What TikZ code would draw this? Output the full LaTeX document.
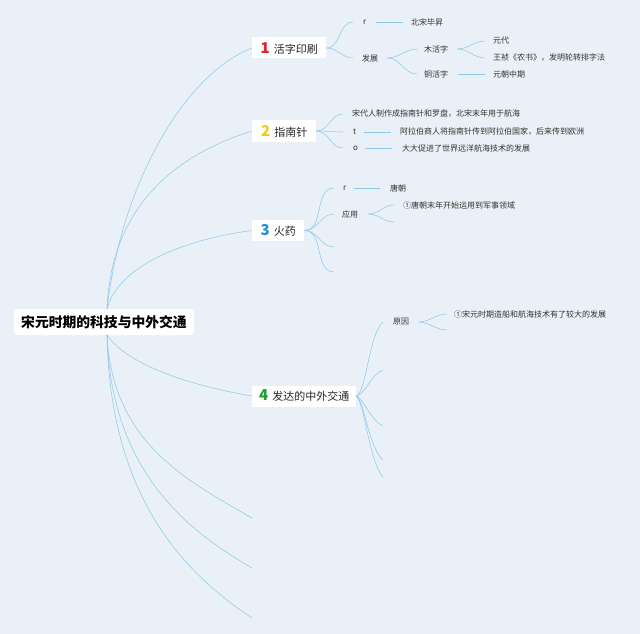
\documentclass[tikz,border=0pt]{standalone}
\usepackage{fontspec}
\setmainfont{Noto Sans CJK SC}
\definecolor{bgc}{HTML}{EAF0F7}
\definecolor{lnc}{HTML}{8FCBE9}
\definecolor{txc}{HTML}{333333}
\definecolor{nA}{HTML}{E3202B}
\definecolor{nB}{HTML}{F4C81C}
\definecolor{nC}{HTML}{1E90D8}
\definecolor{nD}{HTML}{1E9E2A}
\begin{document}
\begin{tikzpicture}[x=1pt,y=-1pt,
  conn/.style={draw=lnc, line width=0.55pt},
  leaf/.style={anchor=west, inner sep=0pt, text=txc, font=\fontsize{8}{9}\selectfont},
  topic/.style={anchor=west, fill=white, inner sep=0pt, minimum height=21pt, text=black!85, font=\fontsize{11}{12}\selectfont}
]
\useasboundingbox (0,0) rectangle (640,634);
\fill[bgc] (0,0) rectangle (640,634);

% root
\node[fill=white, rounded corners=4pt, inner sep=0pt, minimum width=180pt, minimum height=26pt,
      font=\fontsize{13.8}{14}\selectfont\bfseries, text=black] (root) at (104,322) {宋元时期的科技与中外交通};
\coordinate (rtop) at (107,309);
\coordinate (rbot) at (107,335);

% topics
\node[topic, minimum width=74pt] (t1) at (252,48) {{\color{nA}\fontsize{15}{15}\selectfont\bfseries 1}\hspace{4pt}活字印刷};
\node[topic, minimum width=64pt, minimum height=22pt] (t2) at (252,131) {{\color{nB}\fontsize{15}{15}\selectfont\bfseries 2}\hspace{4pt}指南针};
\node[topic, minimum width=52pt] (t3) at (252,230.5) {{\color{nC}\fontsize{15}{15}\selectfont\bfseries 3}\hspace{4pt}火药};
\node[topic, minimum width=104pt] (t4) at (252,396) {{\color{nD}\fontsize{15}{15}\selectfont\bfseries 4}\hspace{4pt}发达的中外交通};

\coordinate (e1) at (252,518);
\coordinate (e2) at (252,568);
\coordinate (e3) at (252,618);

% root connectors
\draw[conn] (rtop) .. controls +(15,-130) and +(-65,25) .. (t1.west);
\draw[conn] (rtop) .. controls +(4,-100) and +(-80,25) .. (t2.west);
\draw[conn] (rtop) .. controls +(10,-40) and +(-75,10) .. (t3.west);
\draw[conn] (rbot) .. controls +(20,30) and +(-60,-10) .. (t4.west);
\draw[conn] (rbot) .. controls +(5,110) and +(-60,-35) .. (e1);
\draw[conn] (rbot) .. controls +(4,140) and +(-60,-35) .. (e2);
\draw[conn] (rbot) .. controls +(3,170) and +(-60,-40) .. (e3);

% ---- topic 1
\node[leaf] (r1) at (363,22) {r};
\node[leaf] (bs) at (411,22) {北宋毕昇};
\node[leaf] (fz) at (362,58) {发展};
\node[leaf] (mhz) at (424,49) {木活字};
\node[leaf] (thz) at (424,74) {铜活字};
\node[leaf] (yd) at (493,41) {元代};
\node[leaf] (wz) at (493,58) {王祯《农书》，发明轮转排字法};
\node[leaf] (yczq) at (493,74) {元朝中期};
\draw[conn] (t1.east) to[out=0,in=180] ([xshift=-10pt]r1.west);
\draw[conn] ([xshift=9pt]r1.east) -- ([xshift=-8pt]bs.west);
\draw[conn] (t1.east) to[out=0,in=180] ([xshift=-9pt]fz.west);
\draw[conn] ([xshift=9pt]fz.east) to[out=0,in=180] ([xshift=-7pt]mhz.west);
\draw[conn] ([xshift=9pt]fz.east) to[out=0,in=180] ([xshift=-7pt]thz.west);
\draw[conn] ([xshift=9pt]mhz.east) to[out=0,in=180] ([xshift=-8pt]yd.west);
\draw[conn] ([xshift=9pt]mhz.east) to[out=0,in=180] ([xshift=-8pt]wz.west);
\draw[conn] ([xshift=10pt]thz.east) -- ([xshift=-8pt]yczq.west);

% ---- topic 2
\node[leaf] (zn) at (352,114) {宋代人制作成指南针和罗盘，北宋末年用于航海};
\node[leaf] (tt) at (353,132) {t};
\node[leaf] (alb) at (400,132) {阿拉伯商人将指南针传到阿拉伯国家，后来传到欧洲};
\node[leaf] (oo) at (353,148) {o};
\node[leaf] (dd) at (402,148) {大大促进了世界远洋航海技术的发展};
\draw[conn] (t2.east) to[out=0,in=180] ([xshift=-9pt]zn.west);
\draw[conn] (t2.east) to[out=0,in=180] ([xshift=-10pt]tt.west);
\draw[conn] (t2.east) to[out=0,in=180] ([xshift=-10pt]oo.west);
\draw[conn] ([xshift=8pt]tt.east) -- ([xshift=-9pt]alb.west);
\draw[conn] ([xshift=7pt]oo.east) -- ([xshift=-10pt]dd.west);

% ---- topic 3
\node[leaf] (r3) at (343,188) {r};
\node[leaf] (tc) at (390,188) {唐朝};
\node[leaf] (yy) at (342,214) {应用};
\node[leaf] (ts) at (403,205) {①唐朝末年开始运用到军事领域};
\coordinate (e31) at (334,247);
\coordinate (e32) at (334,272);
\coordinate (e33) at (394,222);
\draw[conn] (t3.east) to[out=0,in=180] ([xshift=-9pt]r3.west);
\draw[conn] (t3.east) to[out=0,in=180] ([xshift=-8pt]yy.west);
\draw[conn] (t3.east) to[out=0,in=180] (e31);
\draw[conn] (t3.east) to[out=0,in=180] (e32);
\draw[conn] ([xshift=7pt]r3.east) -- ([xshift=-10pt]tc.west);
\draw[conn] ([xshift=10pt]yy.east) to[out=0,in=180] ([xshift=-9pt]ts.west);
\draw[conn] ([xshift=10pt]yy.east) to[out=0,in=180] (e33);

% ---- topic 4
\node[leaf] (yy4) at (393,322) {原因};
\node[leaf] (sy) at (454,314) {①宋元时期造船和航海技术有了较大的发展};
\coordinate (e41) at (383,370);
\coordinate (e42) at (383,426);
\coordinate (e43) at (383,460);
\coordinate (e44) at (383,477);
\coordinate (e45) at (447,330);
\draw[conn] (t4.east) .. controls +(10,-4) and +(-14,12) .. ([xshift=-10pt]yy4.west);
\draw[conn] (t4.east) .. controls +(10,-3) and +(-12,4) .. (e41);
\draw[conn] (t4.east) .. controls +(8,4) and +(-12,-5) .. (e42);
\draw[conn] (t4.east) .. controls +(8,6) and +(-14,-12) .. (e43);
\draw[conn] (t4.east) .. controls +(8,6) and +(-14,-16) .. (e44);
\draw[conn] ([xshift=9pt]yy4.east) to[out=0,in=180] ([xshift=-7pt]sy.west);
\draw[conn] ([xshift=9pt]yy4.east) to[out=0,in=180] (e45);
\end{tikzpicture}
\end{document}
